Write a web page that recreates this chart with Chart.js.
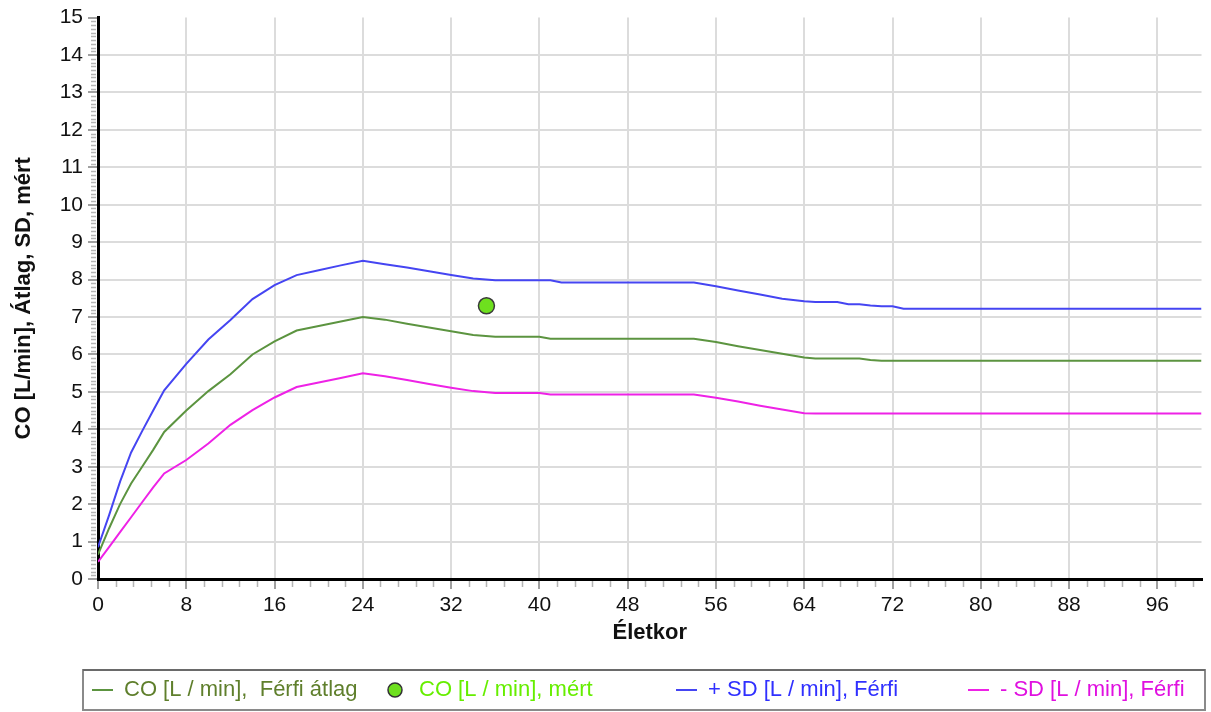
<!DOCTYPE html>
<html>
<head>
<meta charset="utf-8">
<script src="https://cdn.jsdelivr.net/npm/chart.js@4"></script>
<style>
  body { margin: 0; background: #fff; }
  canvas { display: block; }
</style>
</head>
<body>
<canvas id="coChart" width="1211" height="712"></canvas>
<script>
// --- Données ---
const ages = [0, 1, 2, 3, 4, 5, 6, 8, 10, 12, 14, 16, 18, 20, 22, 24, 26, 28, 30, 32, 34, 36, 40, 41, 42, 54, 56, 58, 60, 62, 64, 65, 67, 68, 69, 70, 71, 72, 73, 100];
const atlag = [0.65, 1.35, 2.0, 2.55, 3.0, 3.45, 3.93, 4.5, 5.02, 5.47, 6.0, 6.35, 6.64, 6.76, 6.88, 7.0, 6.93, 6.82, 6.72, 6.62, 6.52, 6.47, 6.47, 6.42, 6.42, 6.42, 6.33, 6.22, 6.12, 6.02, 5.92, 5.89, 5.89, 5.89, 5.89, 5.85, 5.83, 5.83, 5.83, 5.83];
const plusSD = [0.85, 1.7, 2.6, 3.38, 3.95, 4.5, 5.04, 5.75, 6.4, 6.92, 7.48, 7.85, 8.12, 8.25, 8.38, 8.5, 8.41, 8.32, 8.22, 8.12, 8.03, 7.98, 7.98, 7.98, 7.92, 7.92, 7.82, 7.71, 7.6, 7.49, 7.42, 7.4, 7.4, 7.34, 7.34, 7.31, 7.29, 7.29, 7.22, 7.22];
const minusSD = [0.46, 0.85, 1.25, 1.65, 2.05, 2.45, 2.82, 3.18, 3.62, 4.12, 4.51, 4.85, 5.13, 5.25, 5.37, 5.5, 5.42, 5.32, 5.21, 5.11, 5.02, 4.97, 4.97, 4.93, 4.93, 4.93, 4.84, 4.74, 4.63, 4.53, 4.43, 4.42, 4.42, 4.42, 4.42, 4.42, 4.42, 4.42, 4.42, 4.42];
const mertAge = [35.2];
const mertCO = [7.3];

const xTicks = [0, 8, 16, 24, 32, 40, 48, 56, 64, 72, 80, 88, 96];
const yTicks = [0, 1, 2, 3, 4, 5, 6, 7, 8, 9, 10, 11, 12, 13, 14, 15];

const labels = ["CO [L / min],  Férfi átlag", "CO [L / min], mért", "+ SD [L / min], Férfi", "- SD [L / min], Férfi"];
const colors = { atlag: "#5c9440", mert: "#6ee01e", plus: "#4545f2", minus: "#ee22e6" };

const FONT = "'Liberation Sans', Arial, sans-serif";

const toPoints = (xs, ys) => xs.map((x, i) => ({ x, y: ys[i] }));

// --- Petites graduations ---
const minorTicks = {
  id: "minorTicks",
  afterDraw(chart) {
    const { ctx, chartArea, scales } = chart;
    ctx.save();
    ctx.strokeStyle = "#b4b4b4";
    ctx.lineWidth = 1.5;
    ctx.beginPath();
    for (let i = 1; i < 150; i++) {
      if (i % 10 === 0) continue;
      const y = Math.round(scales.y.getPixelForValue(i / 10)) + 0.5;
      ctx.moveTo(chartArea.left - 7, y);
      ctx.lineTo(chartArea.left - 2, y);
    }
    for (let i = 1; i * 1.6 <= 100; i++) {
      if (i % 5 === 0) continue;
      const x = Math.round(scales.x.getPixelForValue(i * 1.6)) + 0.5;
      ctx.moveTo(x, chartArea.bottom + 2);
      ctx.lineTo(x, chartArea.bottom + 8);
    }
    ctx.stroke();
    ctx.restore();
  },
};

// --- Légende encadrée ---
const boxLegend = {
  id: "boxLegend",
  afterDraw(chart) {
    const ctx = chart.ctx;
    const cy = 690;
    ctx.save();
    ctx.strokeStyle = "#8a8a8a";
    ctx.lineWidth = 2;
    ctx.strokeRect(83, 670, 1122, 40);
    ctx.strokeStyle = "#6a6a6a";
    ctx.beginPath();
    ctx.moveTo(83, 670);
    ctx.lineTo(1205, 670);
    ctx.stroke();

    ctx.font = "22px " + FONT;
    ctx.textBaseline = "middle";

    const dash = (x, color) => {
      ctx.strokeStyle = color;
      ctx.lineWidth = 2;
      ctx.beginPath();
      ctx.moveTo(x, cy);
      ctx.lineTo(x + 21, cy);
      ctx.stroke();
    };

    dash(92, colors.atlag);
    ctx.fillStyle = "#5f7f2c";
    ctx.fillText(labels[0], 124, cy);

    ctx.beginPath();
    ctx.arc(395, cy, 7, 0, Math.PI * 2);
    ctx.fillStyle = colors.mert;
    ctx.fill();
    ctx.strokeStyle = "#333";
    ctx.lineWidth = 1.5;
    ctx.stroke();
    ctx.fillStyle = "#66ee00";
    ctx.fillText(labels[1], 419, cy);

    dash(676, colors.plus);
    ctx.fillStyle = "#3030ff";
    ctx.fillText(labels[2], 708, cy);

    dash(968, colors.minus);
    ctx.fillStyle = "#e010e0";
    ctx.fillText(labels[3], 1000, cy);
    ctx.restore();
  },
};

new Chart(document.getElementById("coChart"), {
  type: "line",
  data: {
    datasets: [
      {
        label: labels[1],
        data: toPoints(mertAge, mertCO),
        showLine: false,
        pointRadius: 8,
        pointBackgroundColor: colors.mert,
        pointBorderColor: "#3a3a3a",
        pointBorderWidth: 1.5,
      },
      {
        label: labels[0],
        data: toPoints(ages, atlag),
        borderColor: colors.atlag,
        borderWidth: 2,
        pointRadius: 0,
        tension: 0,
      },
      {
        label: labels[2],
        data: toPoints(ages, plusSD),
        borderColor: colors.plus,
        borderWidth: 2,
        pointRadius: 0,
        tension: 0,
      },
      {
        label: labels[3],
        data: toPoints(ages, minusSD),
        borderColor: colors.minus,
        borderWidth: 2,
        pointRadius: 0,
        tension: 0,
      },
    ],
  },
  options: {
    responsive: false,
    animation: false,
    layout: { padding: { top: 16, right: 7, bottom: 63, left: 0 } },
    plugins: {
      legend: { display: false },
      tooltip: { enabled: false },
    },
    scales: {
      x: {
        type: "linear",
        min: 0,
        max: 100,
        afterBuildTicks: (s) => { s.ticks = xTicks.map((v) => ({ value: v })); },
        afterFit: (s) => { s.height = 70; },
        ticks: { font: { family: FONT, size: 21 }, color: "#111", padding: 4, maxRotation: 0 },
        grid: {
          color: (c) => (c.tick && c.tick.value === 0 ? "rgba(0,0,0,0)" : "#dcdcdc"),
          lineWidth: 2,
          tickColor: "#a0a0a0",
          tickLength: 10,
        },
        border: { color: "#000", width: 3 },
        title: { display: true, text: "Életkor", font: { family: FONT, size: 22, weight: "bold" }, color: "#111", padding: 3 },
      },
      y: {
        min: 0,
        max: 15,
        afterBuildTicks: (s) => { s.ticks = yTicks.map((v) => ({ value: v })); },
        afterFit: (s) => { s.width = 98; },
        ticks: { font: { family: FONT, size: 21 }, color: "#111", padding: 5 },
        grid: {
          color: (c) => (c.tick && (c.tick.value === 15 || c.tick.value === 0) ? "rgba(0,0,0,0)" : "#dcdcdc"),
          lineWidth: 2,
          tickColor: "#a0a0a0",
          tickLength: 10,
        },
        border: { color: "#000", width: 3 },
        title: { display: true, text: "CO [L/min], Átlag, SD, mért", font: { family: FONT, size: 22, weight: "bold" }, color: "#111", padding: 11 },
      },
    },
  },
  plugins: [minorTicks, boxLegend],
});
</script>
</body>
</html>
